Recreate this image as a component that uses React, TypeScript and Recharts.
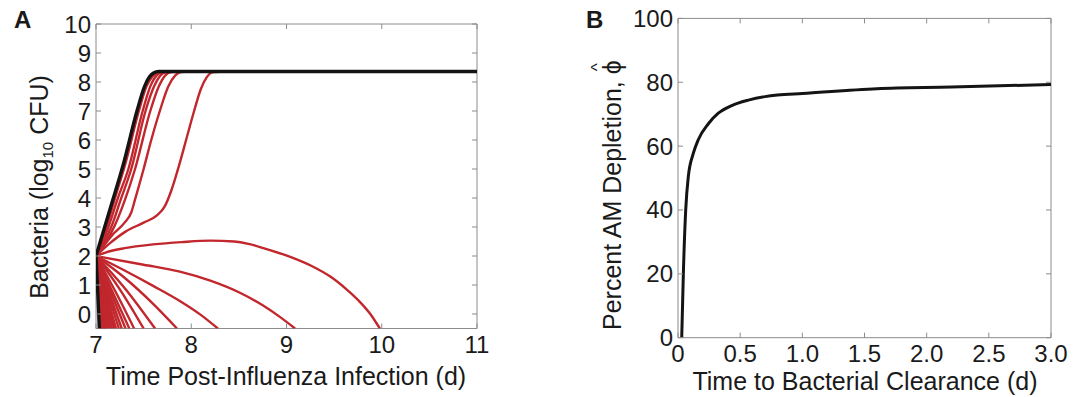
import React from "react";
import { LineChart, Line, XAxis, YAxis, ReferenceArea } from "recharts";

type Pt = [number, number];

// ---- panel A: bacterial titers after influenza infection ----
const aXTicks = [7, 8, 9, 10, 11];
const aXLabels = ["7", "8", "9", "10", "11"];
const aYTicks = [0, 1, 2, 3, 4, 5, 6, 7, 8, 9, 10];
const aYLabels = ["0", "1", "2", "3", "4", "5", "6", "7", "8", "9", "10"];

// black bounding curves
const blackRise: Pt[] = [
  [7, 2], [7.05, 2.55], [7.15, 3.65], [7.29, 5.2], [7.43, 7.0], [7.51, 7.85],
  [7.56, 8.17], [7.6, 8.3], [7.66, 8.36], [11, 8.36],
];
const blackFall: Pt[] = [[7, 2], [7.015, 1.0], [7.035, -0.5]];

// red curves that grow to the plateau
const rise1: Pt[] = [
  [7, 2], [7.05, 2.4], [7.11, 3.0], [7.2, 4.0], [7.31, 5.2], [7.45, 7.0],
  [7.53, 7.85], [7.6, 8.22], [7.66, 8.34], [7.8, 8.36],
];
const rise2: Pt[] = [
  [7, 2], [7.06, 2.4], [7.13, 3.0], [7.23, 4.0], [7.34, 5.0], [7.49, 7.0],
  [7.57, 7.85], [7.64, 8.24], [7.7, 8.34], [7.85, 8.36],
];
const rise3: Pt[] = [
  [7, 2], [7.07, 2.38], [7.16, 3.0], [7.26, 3.95], [7.37, 5.0], [7.52, 7.0],
  [7.61, 7.85], [7.68, 8.24], [7.74, 8.34], [7.9, 8.36],
];
const rise4: Pt[] = [
  [7, 2], [7.08, 2.35], [7.19, 3.0], [7.3, 3.9], [7.41, 5.0], [7.57, 7.0],
  [7.66, 7.85], [7.73, 8.24], [7.79, 8.34], [7.95, 8.36],
];
const riseKnee: Pt[] = [
  [7, 2], [7.08, 2.35], [7.17, 2.72], [7.3, 3.15], [7.37, 3.5], [7.41, 3.95],
  [7.5, 5.0], [7.58, 6.0], [7.67, 7.0], [7.76, 7.85], [7.83, 8.22], [7.89, 8.34], [8.0, 8.36],
];
const riseLate: Pt[] = [
  [7, 2], [7.15, 2.45], [7.31, 2.84], [7.5, 3.15], [7.64, 3.4], [7.72, 3.7],
  [7.79, 4.25], [7.87, 5.1], [7.95, 6.05], [8.03, 7.0], [8.1, 7.75], [8.16, 8.15],
  [8.22, 8.33], [8.35, 8.36],
];

// red curves that are cleared
const fallPeak: Pt[] = [
  [7, 2], [7.1, 2.12], [7.3, 2.27], [7.6, 2.4], [7.9, 2.48], [8.2, 2.53], [8.45, 2.5],
  [8.6, 2.42], [8.76, 2.27], [9.04, 1.97], [9.28, 1.63], [9.46, 1.29], [9.63, 0.85],
  [9.77, 0.42], [9.88, 0.0], [9.98, -0.5],
];
const fallSlow: Pt[] = [
  [7, 2], [7.5, 1.7], [7.88, 1.46], [8.2, 1.15], [8.5, 0.75], [8.75, 0.3],
  [8.93, -0.1], [9.09, -0.5],
];
const fallMid: Pt[] = [[7, 2], [7.3, 1.5], [7.6, 0.97], [7.88, 0.45], [8.1, -0.03], [8.28, -0.5]];
const fall4: Pt[] = [[7, 2], [7.3, 1.25], [7.6, 0.35], [7.85, -0.5]];
const fall5: Pt[] = [[7, 2], [7.3, 0.9], [7.62, -0.5]];
const fall6: Pt[] = [[7, 2], [7.25, 0.85], [7.5, -0.5]];
const fall7: Pt[] = [[7, 2], [7.2, 0.8], [7.4, -0.5]];
// times at which the fast-clearing curves reach the bottom of the axis
const quickClearEnds = [7.35, 7.31, 7.27, 7.24, 7.21, 7.19, 7.17, 7.15, 7.13, 7.11, 7.1, 7.09, 7.08, 7.07, 7.06, 7.05];

// ---- panel B: AM depletion vs clearance time ----
const bXTicks = [0, 0.5, 1, 1.5, 2, 2.5, 3];
const bXLabels = ["0", "0.5", "1.0", "1.5", "2.0", "2.5", "3.0"];
const bYTicks = [0, 20, 40, 60, 80, 100];
const bYLabels = ["0", "20", "40", "60", "80", "100"];
const clearTime = [0.03, 0.043, 0.062, 0.083, 0.123, 0.163, 0.244, 0.324, 0.432, 0.566, 0.7, 0.8, 1.0, 1.6, 2.2, 3.0];
const depletion = [0, 20, 40, 50.5, 57.7, 62, 67, 70.3, 72.7, 74.4, 75.5, 76, 76.5, 78, 78.5, 79.3];

const FONT = '"Liberation Sans", Arial, Helvetica, sans-serif';
const FRAME = "#8c8c8c";
const INK = "#1a1a1a";
const RED = "#c1272d";
const BLACK = "#141414";
const TICK_FONT = 24;
const AXIS_W = 60;
const AXIS_H = 40;

type Box = { w: number; h: number; left: number; right: number; top: number; bottom: number };
const boxA: Box = { w: 540, h: 397, left: 96, right: 477, top: 24, bottom: 328.5 };
const boxB: Box = { w: 544, h: 397, left: 138, right: 511, top: 18.4, bottom: 337.7 };

const toPts = (arr: Pt[]) => arr.map(([t, v]) => ({ t, v }));

function xTick(ticks: number[], labels: string[], box: Box) {
  return (p: any) => {
    const x = p.payload?.coordinate ?? p.x;
    const label = labels[ticks.indexOf(p.payload.value)];
    return (
      <g>
        <line x1={x} x2={x} y1={box.bottom} y2={box.bottom - 5} stroke={FRAME} />
        <line x1={x} x2={x} y1={box.top} y2={box.top + 5} stroke={FRAME} />
        <text x={x} y={box.bottom + 24} textAnchor="middle" fontSize={TICK_FONT} fill={INK} fontFamily={FONT}>
          {label}
        </text>
      </g>
    );
  };
}

function yTick(ticks: number[], labels: string[], box: Box) {
  return (p: any) => {
    const y = p.payload?.coordinate ?? p.y;
    const label = labels[ticks.indexOf(p.payload.value)];
    return (
      <g>
        <line x1={box.left} x2={box.left + 5} y1={y} y2={y} stroke={FRAME} />
        <line x1={box.right} x2={box.right - 5} y1={y} y2={y} stroke={FRAME} />
        <text x={box.left - 5} y={y + 8.5} textAnchor="end" fontSize={TICK_FONT} fill={INK} fontFamily={FONT}>
          {label}
        </text>
      </g>
    );
  };
}

const margins = (b: Box) => ({
  top: b.top,
  left: b.left - AXIS_W,
  right: b.w - b.right,
  bottom: b.h - b.bottom - AXIS_H,
});

function redLine(pts: Pt[], key: string) {
  return (
    <Line
      key={key}
      data={toPts(pts)}
      dataKey="v"
      type="monotone"
      stroke={RED}
      strokeWidth={2.4}
      dot={false}
      activeDot={false}
      isAnimationActive={false}
    />
  );
}

function PanelA() {
  const reds: Pt[][] = [
    rise1, rise2, rise3, rise4, riseKnee, riseLate,
    fallPeak, fallSlow, fallMid, fall4, fall5, fall6, fall7,
    ...quickClearEnds.map((te): Pt[] => [[7, 2], [te, -0.5]]),
  ];
  return (
    <LineChart width={boxA.w} height={boxA.h} margin={margins(boxA)}>
      <XAxis
        type="number"
        dataKey="t"
        domain={[7, 11]}
        ticks={aXTicks}
        interval={0}
        allowDataOverflow
        height={AXIS_H}
        axisLine={false}
        tickLine={false}
        tick={xTick(aXTicks, aXLabels, boxA)}
      />
      <YAxis
        type="number"
        domain={[-0.5, 10]}
        ticks={aYTicks}
        interval={0}
        allowDataOverflow
        width={AXIS_W}
        axisLine={false}
        tickLine={false}
        tick={yTick(aYTicks, aYLabels, boxA)}
      />
      <ReferenceArea x1={7} x2={11} y1={-0.5} y2={10} fill="none" stroke={FRAME} strokeWidth={1} />
      {reds.map((c, i) => redLine(c, "r" + i))}
      <Line data={toPts(blackFall)} dataKey="v" type="monotone" stroke={BLACK} strokeWidth={3.4}
        dot={false} activeDot={false} isAnimationActive={false} />
      <Line data={toPts(blackRise)} dataKey="v" type="monotone" stroke={BLACK} strokeWidth={3.4}
        dot={false} activeDot={false} isAnimationActive={false} />
    </LineChart>
  );
}

function PanelB() {
  const data = clearTime.map((t, i) => ({ t, v: depletion[i] }));
  return (
    <LineChart width={boxB.w} height={boxB.h} margin={margins(boxB)} data={data}>
      <XAxis
        type="number"
        dataKey="t"
        domain={[0, 3]}
        ticks={bXTicks}
        interval={0}
        allowDataOverflow
        height={AXIS_H}
        axisLine={false}
        tickLine={false}
        tick={xTick(bXTicks, bXLabels, boxB)}
      />
      <YAxis
        type="number"
        domain={[0, 100]}
        ticks={bYTicks}
        interval={0}
        allowDataOverflow
        width={AXIS_W}
        axisLine={false}
        tickLine={false}
        tick={yTick(bYTicks, bYLabels, boxB)}
      />
      <ReferenceArea x1={0} x2={3} y1={0} y2={100} fill="none" stroke={FRAME} strokeWidth={1} />
      <Line dataKey="v" type="monotone" stroke={BLACK} strokeWidth={3}
        dot={false} activeDot={false} isAnimationActive={false} />
    </LineChart>
  );
}

export default function App() {
  const title = { fontFamily: FONT, fontSize: 25, fill: INK } as const;
  return (
    <div style={{ position: "absolute", left: 0, top: 0, width: 1084, height: 397, background: "#fff", overflow: "hidden" }}>
      <div style={{ position: "absolute", left: 0, top: 0 }}>
        <PanelA />
      </div>
      <div style={{ position: "absolute", left: 540, top: 0 }}>
        <PanelB />
      </div>
      <svg width={1084} height={397} style={{ position: "absolute", left: 0, top: 0, pointerEvents: "none" }}>
        <text x={14} y={28} fontFamily={FONT} fontSize={24} fontWeight="bold" fill={INK}>A</text>
        <text x={586} y={28} fontFamily={FONT} fontSize={24} fontWeight="bold" fill={INK}>B</text>
        <text x={286} y={385} textAnchor="middle" {...title}>Time Post-Influenza Infection (d)</text>
        <text x={865} y={390} textAnchor="middle" {...title}>Time to Bacterial Clearance (d)</text>
        <text transform="translate(48,187) rotate(-90)" textAnchor="middle" {...title}>
          Bacteria (log<tspan fontSize={15} dy={5}>10</tspan>
          <tspan dy={-5}> CFU)</tspan>
        </text>
        <text transform="translate(621,330) rotate(-90)" {...title}>
          Percent AM Depletion, ϕ<tspan dx={-11} dy={-18} fontSize={17}>^</tspan>
        </text>
      </svg>
    </div>
  );
}
